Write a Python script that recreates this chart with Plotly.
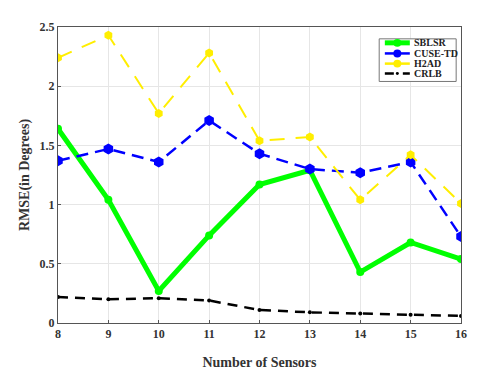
import plotly.graph_objects as go

sensors = [8, 9, 10, 11, 12, 13, 14, 15, 16]
sblsr = [1.64, 1.04, 0.27, 0.74, 1.17, 1.29, 0.43, 0.68, 0.54]
cuse_td = [1.37, 1.47, 1.36, 1.71, 1.43, 1.30, 1.27, 1.36, 0.73]
h2ad = [2.24, 2.43, 1.77, 2.28, 1.54, 1.57, 1.04, 1.42, 1.01]
crlb = [0.22, 0.20, 0.21, 0.19, 0.11, 0.09, 0.08, 0.07, 0.06]
series_names = ["SBLSR", "CUSE-TD", "H2AD", "CRLB"]

serif = "Liberation Serif"
colors = ["#00ff00", "#0000ff", "#ffee00", "black"]
line_styles = [
    dict(color=colors[0], width=5),
    dict(color=colors[1], width=2.5, dash="12px,7px"),
    dict(color=colors[2], width=2, dash="15px,11px"),
    dict(color=colors[3], width=2.5, dash="10px,7px"),
]
marker_styles = [
    dict(color=colors[0], size=8, symbol="circle"),
    dict(color=colors[1], size=11, symbol="hexagon"),
    dict(color=colors[2], size=9, symbol="hexagon"),
    dict(color=colors[3], size=4, symbol="circle"),
]

fig = go.Figure()
for name, ys, ls, ms in zip(series_names, [sblsr, cuse_td, h2ad, crlb], line_styles, marker_styles):
    fig.add_trace(go.Scatter(x=sensors, y=ys, name=name, mode="lines+markers",
                             line=ls, marker=ms, showlegend=False))

axis_common = dict(showline=True, linecolor="#555555", linewidth=1, mirror=True,
                   showgrid=True, gridcolor="#e6e6e6", gridwidth=1,
                   ticks="inside", ticklen=3, tickcolor="#555555", zeroline=False,
                   tickfont=dict(family=serif, size=12, color="#333333", weight="bold"))
fig.update_xaxes(range=[8, 16], tickvals=sensors, **axis_common,
                 title=dict(text="Number of Sensors", standoff=16,
                            font=dict(family=serif, size=14, color="#333333", weight="bold")))
fig.update_yaxes(range=[0, 2.5], tickvals=[0, 0.5, 1, 1.5, 2, 2.5],
                 ticktext=["0", "0.5", "1", "1.5", "2", "2.5"], **axis_common,
                 title=dict(text="RMSE(in Degrees)", standoff=6,
                            font=dict(family=serif, size=14, color="#333333", weight="bold")))

# Custom compact legend (box, sample lines, labels) in paper coordinates
shapes = [dict(type="rect", xref="paper", yref="paper", x0=0.797, x1=0.988, y0=0.816, y1=0.960,
               line=dict(color="#777777", width=1), fillcolor="white", layer="above")]
annotations = []
row_y = [0.9465, 0.9107, 0.8763, 0.843]
legend_widths = [5, 2.5, 2.5, 2.5]
for name, ry, ls, ms, lw in zip(series_names, row_y, line_styles, marker_styles, legend_widths):
    shapes.append(dict(type="line", xref="paper", yref="paper", x0=0.811, x1=0.873, y0=ry, y1=ry,
                       line=dict(color=ls["color"], width=lw,
                                 dash="solid" if name in ("SBLSR", "CUSE-TD", "H2AD") else "dash"),
                       layer="above"))
    r = 4 if name != "CRLB" else 1.5
    shapes.append(dict(type="circle", xref="paper", yref="paper",
                       x0=0.842 - r / 403, x1=0.842 + r / 403, y0=ry - r / 299, y1=ry + r / 299,
                       line=dict(color=ls["color"], width=0), fillcolor=ls["color"], layer="above"))
    annotations.append(dict(xref="paper", yref="paper", x=0.879, y=ry, xanchor="left", yanchor="middle",
                            text=name, showarrow=False,
                            font=dict(family=serif, size=10, color="#222222", weight="bold")))

fig.update_layout(width=480, height=379, margin=dict(l=50, r=27, t=16, b=64),
                  paper_bgcolor="white", plot_bgcolor="white",
                  shapes=shapes, annotations=annotations, showlegend=False)
fig.write_html("out.html")
